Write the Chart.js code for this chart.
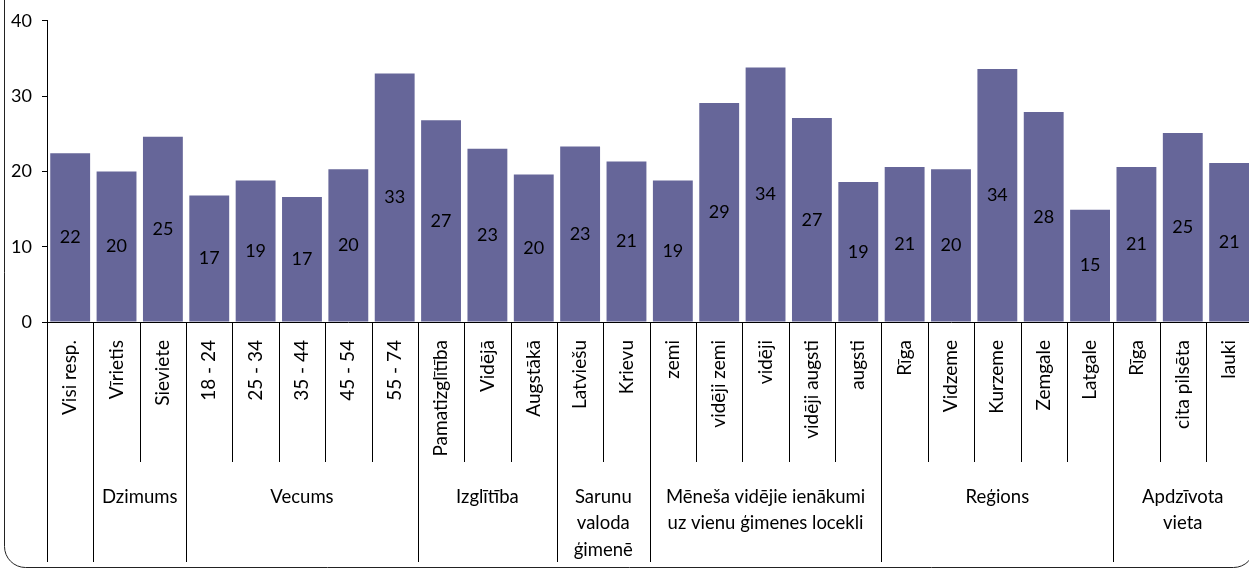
<!DOCTYPE html>
<html lang="lv">
<head>
  <meta charset="UTF-8">
  <title>Respondentu grupas</title>
  <script src="https://cdn.jsdelivr.net/npm/chart.js"></script>
  <style>
    html, body { margin: 0; padding: 0; overflow: hidden; background: #fff; }
    #wrap { width: 1262px; height: 569px; }
  </style>
</head>
<body>
  <div id="wrap"><canvas id="myChart" width="1262" height="569"></canvas></div>

  <script>
    const categories = ['Visi resp.', 'Vīrietis', 'Sieviete', '18 - 24', '25 - 34', '35 - 44', '45 - 54', '55 - 74',
      'Pamatizglītība', 'Vidējā', 'Augstākā', 'Latviešu', 'Krievu', 'zemi', 'vidēji zemi', 'vidēji',
      'vidēji augsti', 'augsti', 'Rīga', 'Vidzeme', 'Kurzeme', 'Zemgale', 'Latgale', 'Rīga', 'cita pilsēta', 'lauki'];
    const values = [22.4, 20.0, 24.6, 16.8, 18.8, 16.6, 20.3, 33.0, 26.8, 23.0, 19.6, 23.3, 21.3,
      18.8, 29.1, 33.8, 27.1, 18.6, 20.6, 20.3, 33.6, 27.9, 14.9, 20.6, 25.1, 21.1];
    const groupNames = [[''], ['Dzimums'], ['Vecums'], ['Izglītība'], ['Sarunu', 'valoda', 'ģimenē'],
      ['Mēneša vidējie ienākumi', 'uz vienu ģimenes locekli'], ['Reģions'], ['Apdzīvota', 'vieta']];
    const groupSizes = [1, 2, 5, 3, 2, 5, 5, 3];
    const yTicks = [0, 10, 20, 30, 40];

    const FONT = 'Lato, "DejaVu Sans", sans-serif';

    // labels in the middle of each bar
    const barLabels = {
      id: 'barLabels',
      afterDatasetsDraw(chart) {
        const ctx = chart.ctx;
        const meta = chart.getDatasetMeta(0);
        ctx.save();
        ctx.font = '18px ' + FONT;
        ctx.fillStyle = '#000';
        ctx.textAlign = 'center';
        ctx.textBaseline = 'middle';
        meta.data.forEach((bar, i) => {
          ctx.fillText(Math.round(values[i]), bar.x, (bar.y + bar.base) / 2);
        });
        ctx.restore();
      }
    };

    // category separators, group names and the rounded frame
    const groupAxis = {
      id: 'groupAxis',
      afterDraw(chart) {
        const ctx = chart.ctx;
        const x = chart.scales.x;
        const top = chart.chartArea.bottom;
        const shortEnd = 462;
        const longEnd = 562;
        const step = x.getPixelForValue(1) - x.getPixelForValue(0);
        const edge = (i) => x.getPixelForValue(0) - step / 2 + (i === 0 ? 0 : (x.getPixelForValue(i) - x.getPixelForValue(0)));

        ctx.save();
        ctx.strokeStyle = '#000';
        ctx.lineWidth = 1;

        const groupStarts = [];
        let s = 0;
        groupSizes.forEach((n) => { groupStarts.push(s); s += n; });

        for (let i = 0; i <= categories.length; i++) {
          const px = Math.round(edge(i)) + 0.5;
          const isGroup = groupStarts.includes(i) || i === categories.length;
          ctx.beginPath();
          ctx.moveTo(px, top);
          ctx.lineTo(px, isGroup ? longEnd : shortEnd);
          ctx.stroke();
        }

        ctx.font = '18.5px ' + FONT;
        ctx.fillStyle = '#000';
        ctx.textAlign = 'center';
        ctx.textBaseline = 'middle';
        groupNames.forEach((lines, g) => {
          const a = groupStarts[g];
          const b = a + groupSizes[g] - 1;
          const cx = (x.getPixelForValue(a) + x.getPixelForValue(b)) / 2;
          lines.forEach((t, k) => ctx.fillText(t, cx, 497 + k * 26.5));
        });

        // rounded outer frame (top and right sides fall outside the picture)
        ctx.strokeStyle = '#222';
        ctx.beginPath();
        ctx.roundRect(4.5, -40, 1250, 607.5, 21);
        ctx.stroke();
        ctx.restore();
      }
    };

    const chart = new Chart(document.getElementById('myChart').getContext('2d'), {
      type: 'bar',
      data: {
        labels: categories,
        datasets: [{
          data: values,
          backgroundColor: '#666699',
          borderWidth: 0,
          barPercentage: 0.86,
          categoryPercentage: 1.0
        }]
      },
      options: {
        responsive: false,
        animation: false,
        layout: { padding: { top: 18, right: 3, left: 0, bottom: 0 } },
        plugins: {
          legend: { display: false },
          tooltip: { enabled: false }
        },
        scales: {
          x: {
            grid: { display: false },
            border: { display: true, color: '#000', width: 1 },
            ticks: {
              autoSkip: false,
              minRotation: 90,
              maxRotation: 90,
              padding: 10,
              color: '#000',
              font: { family: FONT, size: 19 }
            },
            afterFit(scale) { scale.height = 247; }
          },
          y: {
            min: 0,
            max: 40,
            afterBuildTicks(scale) { scale.ticks = yTicks.map((v) => ({ value: v })); },
            grid: { drawOnChartArea: false, tickLength: 5, color: '#000' },
            border: { display: true, color: '#000', width: 1 },
            ticks: {
              padding: 10,
              color: '#000',
              font: { family: FONT, size: 18 }
            },
            afterFit(scale) { scale.width = 47; }
          }
        }
      },
      plugins: [barLabels, groupAxis]
    });
  </script>
</body>
</html>
